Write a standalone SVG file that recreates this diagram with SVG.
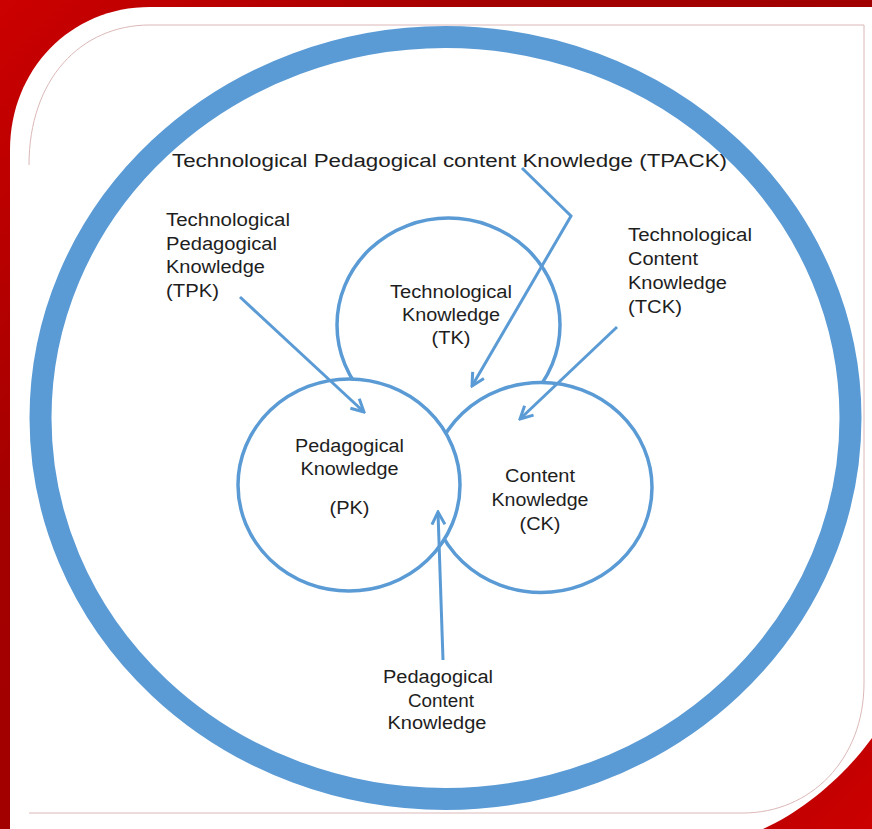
<svg xmlns="http://www.w3.org/2000/svg" width="872" height="829" viewBox="0 0 872 829">
  <defs>
    <linearGradient id="redbg" gradientUnits="userSpaceOnUse" x1="0" y1="0" x2="872" y2="829">
      <stop offset="0" stop-color="#cc0000"/>
      <stop offset="0.3" stop-color="#a30000"/>
      <stop offset="0.72" stop-color="#a00000"/>
      <stop offset="1" stop-color="#cc0000"/>
    </linearGradient>
    <marker id="arrow" viewBox="0 0 16 16" refX="14" refY="8" markerWidth="16" markerHeight="16" markerUnits="userSpaceOnUse" orient="auto">
      <path d="M1.5,1.5 L14,8 L1.5,14.5" fill="none" stroke="#5b9bd5" stroke-width="3" stroke-linejoin="miter"/>
    </marker>
  </defs>
  <style>
    .lbl { font-family: "Liberation Sans", Arial, sans-serif; font-size: 18px; fill: #1e1e1e; }
    .mid { text-anchor: middle; }
    .circ { fill: #ffffff; stroke: #5b9bd5; stroke-width: 3.5; }
    .conn { fill: none; stroke: #5b9bd5; stroke-width: 3; marker-end: url(#arrow); }
  </style>

  <!-- background -->
  <rect x="0" y="0" width="872" height="829" fill="url(#redbg)"/>
  <path d="M10,829 V150 C10,70 70,7 150,7 H872 V738 C845,775 805,810 763,829 Z" fill="#ffffff"/>
  <path d="M29,165 C29,80 80,25 150,25 H864 V683 C864,760 810,813 743,813 H29" fill="none" stroke="#dcb8b8" stroke-width="1"/>

  <!-- outer TPACK ring -->
  <g id="tpack-ring">
    <ellipse cx="445.5" cy="418" rx="405" ry="381" fill="none" stroke="#5b9bd5" stroke-width="22"/>
  </g>

  <!-- circles -->
  <g id="tk">
    <ellipse class="circ" cx="448.5" cy="325" rx="111.5" ry="107"/>
    <text class="lbl mid" x="451" y="298" textLength="122" lengthAdjust="spacingAndGlyphs">Technological</text>
    <text class="lbl mid" x="451" y="321" textLength="98" lengthAdjust="spacingAndGlyphs">Knowledge</text>
    <text class="lbl mid" x="451" y="344" textLength="39" lengthAdjust="spacingAndGlyphs">(TK)</text>
  </g>
  <g id="ck">
    <ellipse class="circ" cx="541" cy="487.5" rx="111" ry="105"/>
    <text class="lbl mid" x="540" y="482" textLength="70" lengthAdjust="spacingAndGlyphs">Content</text>
    <text class="lbl mid" x="540" y="506" textLength="97" lengthAdjust="spacingAndGlyphs">Knowledge</text>
    <text class="lbl mid" x="540" y="529.5" textLength="41" lengthAdjust="spacingAndGlyphs">(CK)</text>
  </g>
  <g id="pk">
    <ellipse class="circ" cx="349" cy="485" rx="111" ry="106"/>
    <text class="lbl mid" x="349.5" y="452" textLength="109" lengthAdjust="spacingAndGlyphs">Pedagogical</text>
    <text class="lbl mid" x="349.5" y="475" textLength="98" lengthAdjust="spacingAndGlyphs">Knowledge</text>
    <text class="lbl mid" x="349.5" y="514" textLength="40" lengthAdjust="spacingAndGlyphs">(PK)</text>
  </g>

  <!-- outside labels -->
  <g id="tpack-label">
    <text class="lbl" x="172" y="167" textLength="555" lengthAdjust="spacingAndGlyphs">Technological Pedagogical content Knowledge (TPACK)</text>
  </g>
  <g id="tpk-label">
    <text class="lbl" x="166" y="226" textLength="124" lengthAdjust="spacingAndGlyphs">Technological</text>
    <text class="lbl" x="166" y="249.5" textLength="111" lengthAdjust="spacingAndGlyphs">Pedagogical</text>
    <text class="lbl" x="166" y="273" textLength="99" lengthAdjust="spacingAndGlyphs">Knowledge</text>
    <text class="lbl" x="166" y="296.5" textLength="53" lengthAdjust="spacingAndGlyphs">(TPK)</text>
  </g>
  <g id="tck-label">
    <text class="lbl" x="628" y="241" textLength="124" lengthAdjust="spacingAndGlyphs">Technological</text>
    <text class="lbl" x="628" y="265" textLength="70" lengthAdjust="spacingAndGlyphs">Content</text>
    <text class="lbl" x="628" y="289" textLength="99" lengthAdjust="spacingAndGlyphs">Knowledge</text>
    <text class="lbl" x="628" y="313" textLength="54" lengthAdjust="spacingAndGlyphs">(TCK)</text>
  </g>
  <g id="pck-label">
    <text class="lbl mid" x="438" y="683" textLength="110" lengthAdjust="spacingAndGlyphs">Pedagogical</text>
    <text class="lbl mid" x="441" y="707" textLength="66" lengthAdjust="spacingAndGlyphs">Content</text>
    <text class="lbl mid" x="437" y="729" textLength="99" lengthAdjust="spacingAndGlyphs">Knowledge</text>
  </g>

  <!-- connectors -->
  <g id="connectors">
    <path class="conn" d="M522,168 L571,216 L472,386"/>
    <path class="conn" d="M240,297 L364,412"/>
    <path class="conn" d="M617,327 L520,419"/>
    <path class="conn" d="M443,660 L438,512"/>
  </g>
</svg>
